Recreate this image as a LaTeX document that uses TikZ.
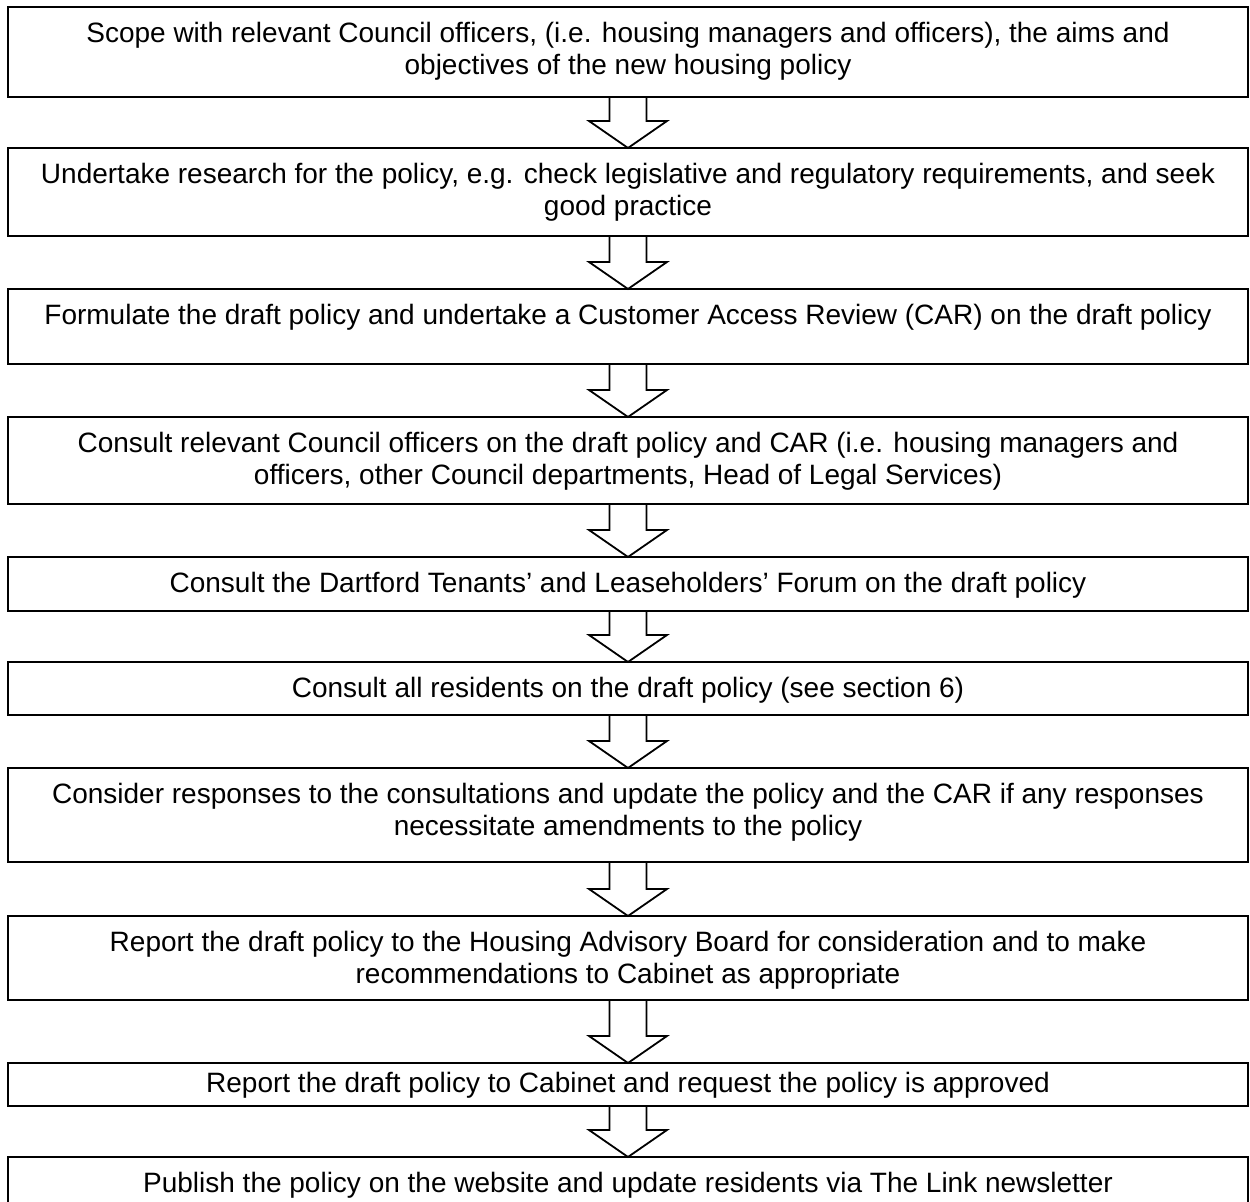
\documentclass[tikz,border=0pt]{standalone}
\usepackage{fontspec}
\setmainfont{Liberation Sans}
\usetikzlibrary{calc}

\newcommand{\steptext}[3][18pt]{\parbox[c][#2][t]{620pt}{\centering\rule{0pt}{#1}#3}}

\begin{document}
\begin{tikzpicture}[x=0.5pt, y=-0.5pt,
    stepbox/.style={draw, line width=1pt, inner sep=0pt, outer sep=0pt, anchor=north,
        font=\fontsize{14}{16}\selectfont},
    blockarrow/.style={draw, fill=white, line width=0.9pt, line join=miter}]
    \useasboundingbox (0,0) rectangle (1250,1202);

    % Steps
    \node (s1) [stepbox] at (628,7) {\steptext{45pt}{Scope with relevant Council officers, (i.e. housing managers and officers), the aims and\\ objectives of the new housing policy}};
    \node (s2) [stepbox] at (628,148) {\steptext{44pt}{Undertake research for the policy, e.g. check legislative and regulatory requirements, and seek\\ good practice}};
    \node (s3) [stepbox] at (628,289) {\steptext{37.5pt}{Formulate the draft policy and undertake a Customer Access Review (CAR) on the draft policy}};
    \node (s4) [stepbox] at (628,417) {\steptext{43.5pt}{Consult relevant Council officers on the draft policy and CAR (i.e. housing managers and\\ officers, other Council departments, Head of Legal Services)}};
    \node (s5) [stepbox] at (628,557) {\steptext{27pt}{Consult the Dartford Tenants’ and Leaseholders’ Forum on the draft policy}};
    \node (s6) [stepbox] at (628,662) {\steptext{26.5pt}{Consult all residents on the draft policy (see section 6)}};
    \node (s7) [stepbox] at (628,768) {\steptext{47pt}{Consider responses to the consultations and update the policy and the CAR if any responses\\ necessitate amendments to the policy}};
    \node (s8) [stepbox] at (628,916) {\steptext{42pt}{Report the draft policy to the Housing Advisory Board for consideration and to make\\ recommendations to Cabinet as appropriate}};
    \node (s9) [stepbox] at (628,1063) {\steptext[15pt]{21.5pt}{Report the draft policy to Cabinet and request the policy is approved}};
    \node (s10) [stepbox] at (628,1157) {\steptext{29pt}{Publish the policy on the website and update residents via The Link newsletter}};

    % Block arrows between steps
    \foreach \i [evaluate=\i as \j using int(\i+1)] in {1,...,9}
       {
            \draw[blockarrow] ($(s\i.south)+(-18.5,0)$) -- ($(s\j.north)+(-18.5,-27)$)
                -- ($(s\j.north)+(-39,-27)$) -- (s\j.north) -- ($(s\j.north)+(39,-27)$)
                -- ($(s\j.north)+(18.5,-27)$) -- ($(s\i.south)+(18.5,0)$) -- cycle;
       }
\end{tikzpicture}
\end{document}
